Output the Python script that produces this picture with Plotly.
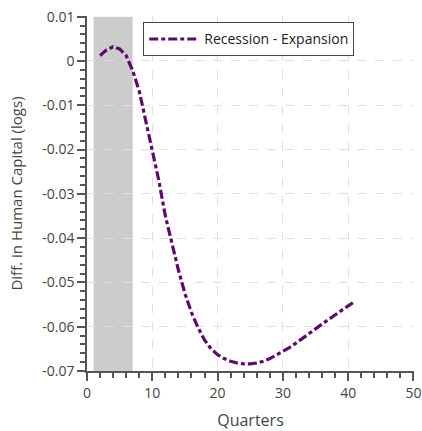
import plotly.graph_objects as go

quarters = list(range(2, 42))
diff = [0.0012, 0.0025, 0.0032, 0.0027, 0.0012, -0.0022, -0.0068, -0.0135, -0.0200, -0.0270,
        -0.0350, -0.0414, -0.0472, -0.0525, -0.0568, -0.0602, -0.0630, -0.0650, -0.0663, -0.0672,
        -0.0678, -0.0682, -0.0684, -0.0684, -0.0682, -0.0678, -0.0672, -0.0664, -0.0656, -0.0647,
        -0.0637, -0.0627, -0.0616, -0.0605, -0.0594, -0.0583, -0.0573, -0.0563, -0.0553, -0.0543]
recession_start, recession_end = 1, 7
series_name = "Recession - Expansion"

font = "Open Sans, Noto Sans, sans-serif"
fig = go.Figure()
fig.add_trace(go.Scatter(x=quarters, y=diff, mode="lines", name=series_name,
                         line=dict(color="#5c0a6b", width=3.2, dash="9px,3px,4px,3px")))
fig.add_shape(type="rect", xref="x", yref="y", x0=recession_start, x1=recession_end,
              y0=-0.07, y1=0.01, fillcolor="#cccccc", line=dict(width=0), layer="below")

axis_common = dict(showline=True, linecolor="#555", linewidth=1.5, ticks="outside",
                   tickcolor="#555", ticklen=8, tickwidth=1.5,
                   showgrid=True, gridcolor="#e0e0e0", griddash="dash", gridwidth=1,
                   zeroline=False, tickfont=dict(size=14, color="#444", family=font),
                   mirror=False, automargin=False)
fig.update_xaxes(range=[0, 50.08], tickvals=[0, 10, 20, 30, 40, 50],
                 title=dict(text="Quarters", font=dict(size=16, color="#444", family=font), standoff=16),
                 minor=dict(tickvals=list(range(2, 50, 2)), ticks="outside", ticklen=5, tickcolor="#555", showgrid=False),
                 **axis_common)
fig.update_yaxes(range=[-0.07, 0.01015], tickvals=[0.01, 0, -0.01, -0.02, -0.03, -0.04, -0.05, -0.06, -0.07],
                 ticktext=["0.01", "0", "-0.01", "-0.02", "-0.03", "-0.04", "-0.05", "-0.06", "-0.07"],
                 title=dict(text="Diff. in Human Capital (logs)", font=dict(size=15, color="#444", family=font), standoff=16),
                 minor=dict(dtick=0.002, tick0=0, ticks="outside", ticklen=5, tickcolor="#555", showgrid=False),
                 **axis_common)
fig.update_layout(width=422, height=431, margin=dict(l=87, r=8, t=16, b=60),
                  plot_bgcolor="white", paper_bgcolor="white",
                  font=dict(family=font),
                  legend=dict(x=0.172, y=0.982, xanchor="left", yanchor="top",
                              bordercolor="#444", borderwidth=1, bgcolor="white",
                              itemwidth=50,
                              font=dict(size=14, color="#222", family=font)),
                  showlegend=True)
fig.write_html("out.html")
